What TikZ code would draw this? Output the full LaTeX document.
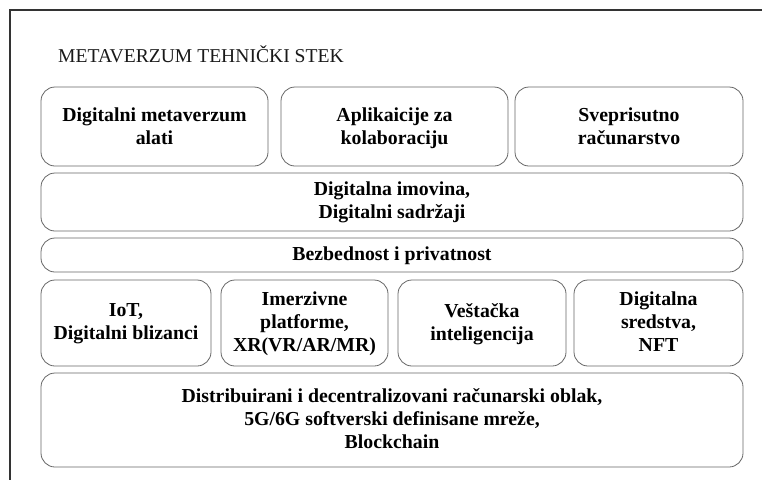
\documentclass[tikz,border=0pt]{standalone}
\usepackage{fontspec}
\setmainfont{Liberation Serif}
\begin{document}
\begin{tikzpicture}[x=1pt,y=-1pt,
  layer/.style={draw=black!60, line width=0.8pt, rounded corners=14pt, fill=white},
  lbl/.style={font=\fontsize{19.8}{23}\selectfont\bfseries, align=center, text=black,
    execute at begin node=\strut, execute at end node=\strut}]
\useasboundingbox (0,0) rectangle (762,480);
\draw[line width=1.2pt, black!80] (762,10) -- (10,10) -- (10,480);
\node[anchor=base west, font=\fontsize{19.6}{23}\selectfont, inner sep=0pt, text=black!90] (title) at (58,62) {METAVERZUM TEHNIČKI STEK};
% row 1
\draw[layer] (41,87) rectangle (268,166);
\node[lbl] (t1) at (154.5,130) {Digitalni metaverzum\\alati};
\draw[layer] (281,87) rectangle (508,166);
\node[lbl] (t2) at (394.5,130) {Aplikaicije za\\kolaboraciju};
\draw[layer] (515,87) rectangle (743,166);
\node[lbl] (t3) at (629,130) {Sveprisutno\\računarstvo};
% row 2
\draw[layer] (41,173) rectangle (743,231);
\node[lbl] (t4) at (392,204) {Digitalna imovina,\\Digitalni sadržaji};
% row 3
\draw[layer] (41,238) rectangle (743,272);
\node[lbl] (t5) at (392,256) {Bezbednost i privatnost};
% row 4
\draw[layer] (41,280) rectangle (211,366);
\node[lbl] (t6) at (126,325) {IoT,\\Digitalni blizanci};
\draw[layer] (221,280) rectangle (388,366);
\node[lbl] (t7) at (304.5,325) {Imerzivne\\platforme,\\XR(VR/AR/MR)};
\draw[layer] (398,280) rectangle (566,366);
\node[lbl] (t8) at (482,325) {Veštačka\\inteligencija};
\draw[layer] (574,280) rectangle (743,366);
\node[lbl] (t9) at (658.5,325) {Digitalna\\sredstva,\\NFT};
% row 5
\draw[layer] (41,373) rectangle (743,467);
\node[lbl] (t10) at (392,422) {Distribuirani i decentralizovani računarski oblak,\\5G/6G softverski definisane mreže,\\Blockchain};
\end{tikzpicture}
\end{document}
